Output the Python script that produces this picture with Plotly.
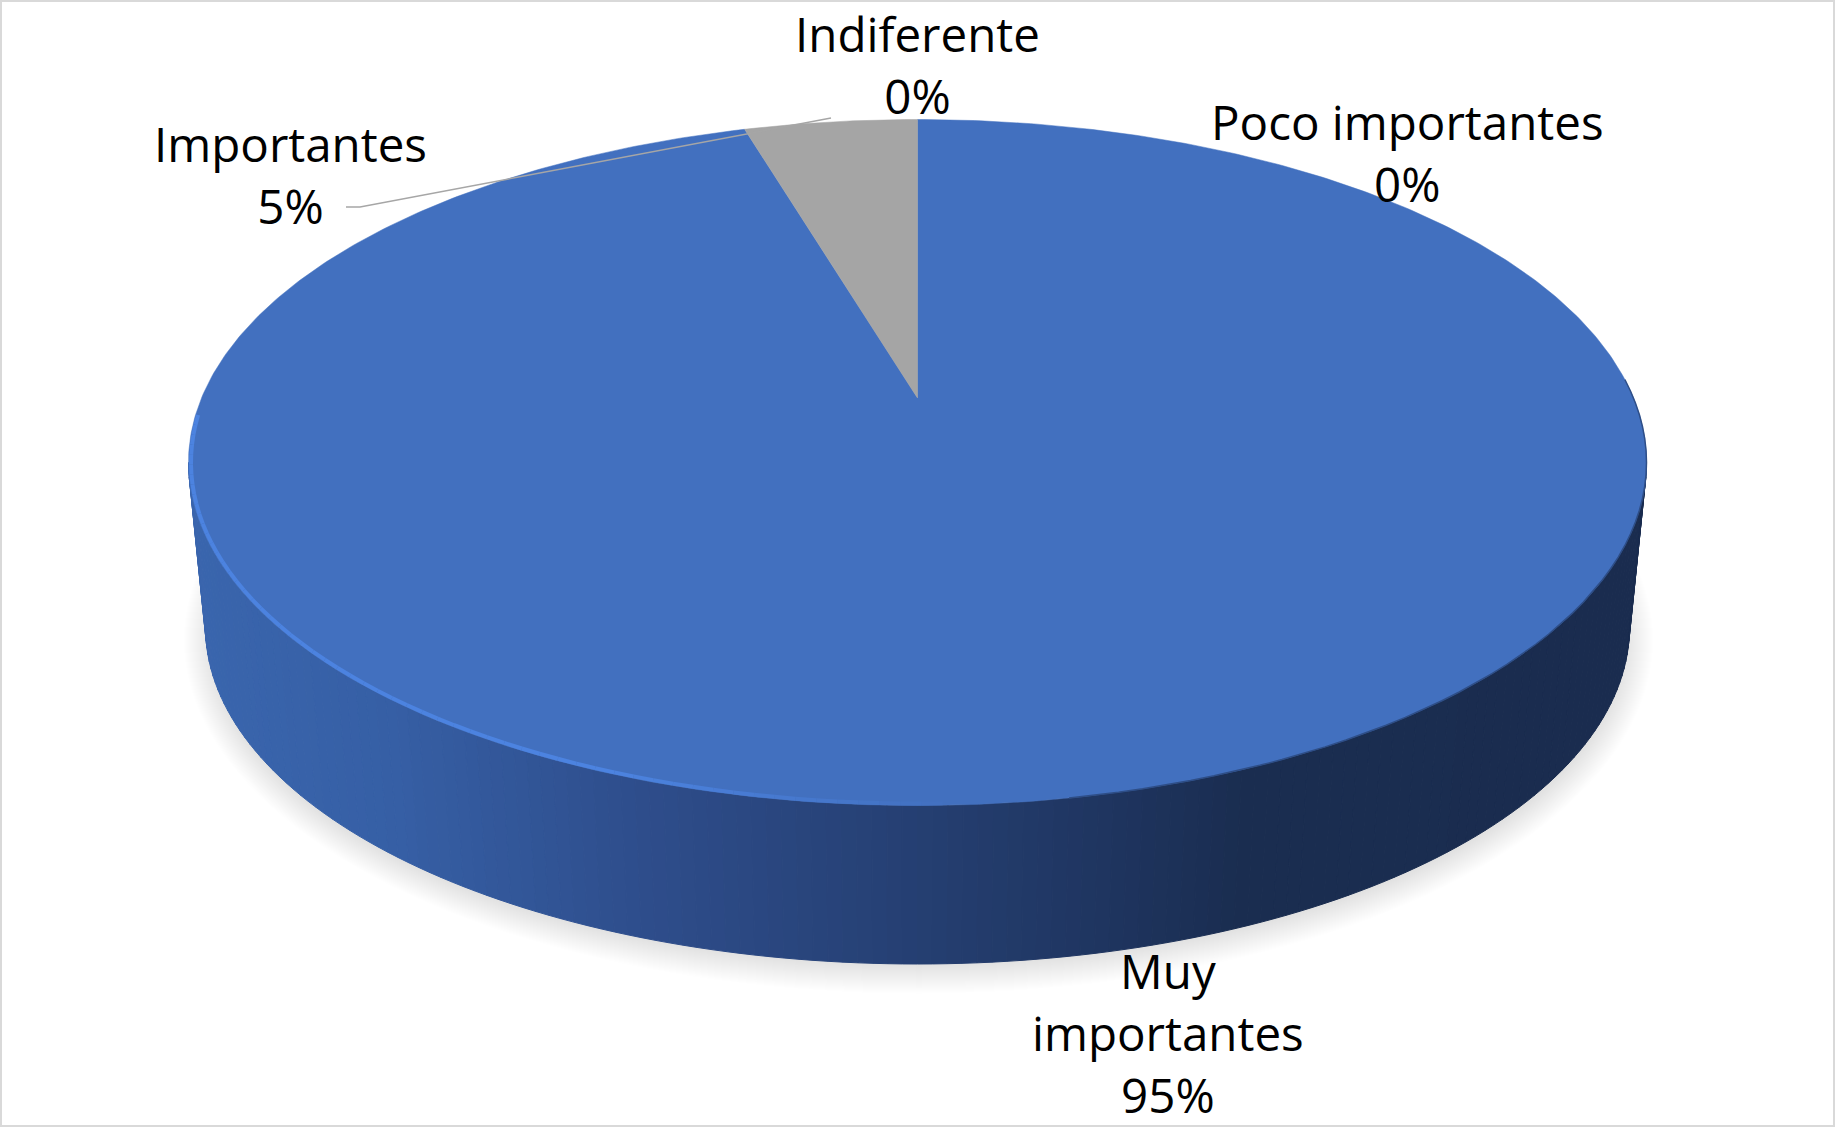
import math
import plotly.graph_objects as go

# ---- data ----
categories = ["Muy importantes", "Importantes", "Indiferente", "Poco importantes"]
values = [95.4, 4.6, 0.0, 0.0]
slice_colors = ["#4270BF", "#A5A5A5", "#ED7D31", "#FFC000"]

# ---- page geometry (pixels) ----
W, H = 1835, 1127
CX = 917.5
TOP_RX, TOP_RY, TOP_CY = 729.0, 343.0, 462.5      # upper rim ellipse
BOT_RX, BOT_RY, BOT_CY = 712.0, 337.0, 627.0      # lower rim ellipse
APEX_Y = 398.0                                    # projected pie centre
PERSP = (TOP_CY - APEX_Y) / TOP_RY

label_pos = {
    "Muy importantes": (1168, 1032),
    "Importantes": (290, 174),
    "Indiferente": (917, 64),
    "Poco importantes": (1407, 152),
}
label_wrap = {"Muy importantes": "Muy<br>importantes"}
FONT = "Open Sans, Noto Sans, sans-serif"
FONT_SIZE = 47.5

wall_stops = [(188, "#3A66AE"), (400, "#365FA5"), (650, "#2E4D8B"), (918, "#253F72"),
              (1100, "#1F3560"), (1240, "#1A2D50"), (1650, "#1A2C4F")]


def hex2rgb(c):
    return tuple(int(c[i:i + 2], 16) for i in (1, 3, 5))


def mix(a, b, t):
    ra, rb = hex2rgb(a), hex2rgb(b)
    return "#%02X%02X%02X" % tuple(round(x + (y - x) * t) for x, y in zip(ra, rb))


def wall_color(x):
    if x <= wall_stops[0][0]:
        return wall_stops[0][1]
    for (x0, c0), (x1, c1) in zip(wall_stops, wall_stops[1:]):
        if x <= x1:
            return mix(c0, c1, (x - x0) / (x1 - x0))
    return wall_stops[-1][1]


def disc_point(theta):
    """Angle clockwise from 12 o'clock on the pie -> page pixel, through the tilt."""
    u, v = math.sin(theta), math.cos(theta)
    d = 1 + PERSP * v
    x = CX + TOP_RX * math.sqrt(1 - PERSP ** 2) * u / d
    y = TOP_CY - TOP_RY * (v + PERSP) / d
    return x, y


def ell(cx, cy, rx, ry, phi):
    return cx + rx * math.cos(phi), cy - ry * math.sin(phi)


fig = go.Figure()


def poly(xs, ys, fill, line=None, width=1):
    fig.add_trace(go.Scatter(x=xs, y=ys, mode="lines", fill="toself", fillcolor=fill,
                             line=dict(color=line or fill, width=width),
                             hoverinfo="skip", showlegend=False))


# soft shadow under the pie
for k in range(30):
    grow = 29 - k
    pts = [ell(CX + 1, 640, 706 + grow, 325 + grow, math.radians(a)) for a in range(0, 361, 2)]
    poly([p[0] for p in pts], [p[1] for p in pts], "rgba(0,0,0,0.0045)", "rgba(0,0,0,0)", 0)

# side wall: narrow strips shaded left to right
N = 150
for i in range(N):
    a0 = math.pi + math.pi * i / N
    a1 = math.pi + math.pi * (i + 1) / N
    t0, t1 = ell(CX, TOP_CY, TOP_RX, TOP_RY, a0), ell(CX, TOP_CY, TOP_RX, TOP_RY, a1)
    b0, b1 = ell(CX, BOT_CY, BOT_RX, BOT_RY, a0), ell(CX, BOT_CY, BOT_RX, BOT_RY, a1)
    col = wall_color((b0[0] + b1[0]) / 2)
    poly([t0[0], t1[0], b1[0], b0[0], t0[0]], [t0[1], t1[1], b1[1], b0[1], t0[1]], col, col, 1)

# top face: one wedge per non-empty value
total = sum(values)
start = 0.0
for name, val, col in zip(categories, values, slice_colors):
    if val <= 0:
        continue
    sweep = 2 * math.pi * val / total
    steps = max(2, int(val * 6))
    pts = [disc_point(start + sweep * j / steps) for j in range(steps + 1)]
    xs = [CX] + [p[0] for p in pts] + [CX]
    ys = [APEX_Y] + [p[1] for p in pts] + [APEX_Y]
    fig.add_trace(go.Scatter(x=xs, y=ys, mode="lines", fill="toself", fillcolor=col,
                             line=dict(color=col, width=0.5), name=name,
                             hoverinfo="name", showlegend=False))
    start += sweep

# rim highlight on the lit side, fading towards the front
rim_top = "#4270BF"
rim_light = "#4C83E0"
seg_n = 60
for i in range(seg_n):
    a0 = math.radians(172 + i * (100 / seg_n))
    a1 = math.radians(172 + (i + 1) * (100 / seg_n))
    p0, p1 = ell(CX, TOP_CY, TOP_RX - 2.5, TOP_RY - 2, a0), ell(CX, TOP_CY, TOP_RX - 2.5, TOP_RY - 2, a1)
    fade = 1 - max(0, (i / seg_n - 0.72) / 0.28)
    fig.add_trace(go.Scatter(x=[p0[0], p1[0]], y=[p0[1], p1[1]], mode="lines",
                             line=dict(color=mix(rim_top, rim_light, fade), width=4),
                             hoverinfo="skip", showlegend=False))

# soft dark edge where the top meets the shaded side
pts = [ell(CX, TOP_CY, TOP_RX, TOP_RY, math.radians(a)) for a in range(282, 376, 2)]
fig.add_trace(go.Scatter(x=[p[0] for p in pts], y=[p[1] for p in pts], mode="lines",
                         line=dict(color=mix("#4270BF", "#1A2C4F", 0.5), width=1.5),
                         hoverinfo="skip", showlegend=False))

# leader line of the "Importantes" label
fig.add_trace(go.Scatter(x=[346, 360, 831], y=[207, 207, 118], mode="lines",
                         line=dict(color="#A6A6A6", width=1.5),
                         hoverinfo="skip", showlegend=False))

for name, val in zip(categories, values):
    x, y = label_pos[name]
    fig.add_annotation(x=x, y=y, xref="x", yref="y", showarrow=False,
                       text=f"{label_wrap.get(name, name)}<br>{round(val)}%",
                       align="center", xanchor="center", yanchor="middle",
                       font=dict(family=FONT, size=FONT_SIZE, color="#000000"))

fig.add_shape(type="rect", xref="x", yref="y", x0=1, y0=1, x1=W - 1, y1=H - 1,
              line=dict(color="#D9D9D9", width=2), fillcolor="rgba(0,0,0,0)", layer="above")

fig.update_layout(
    width=W, height=H, autosize=False,
    margin=dict(l=0, r=0, t=0, b=0),
    paper_bgcolor="#FFFFFF", plot_bgcolor="#FFFFFF",
    showlegend=False,
    xaxis=dict(range=[0, W], visible=False, fixedrange=True),
    yaxis=dict(range=[H, 0], visible=False, fixedrange=True),
)

fig.write_html("out.html", post_script="document.body.style.margin='0';document.body.style.overflow='hidden';",
               config={"displayModeBar": False})
